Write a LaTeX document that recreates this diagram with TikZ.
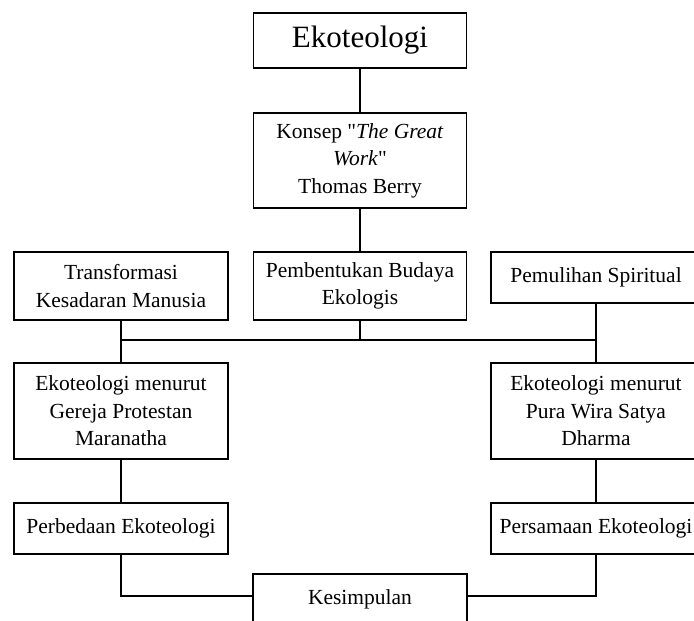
\documentclass[tikz,border=0pt]{standalone}
\usepackage{fontspec}
\setmainfont{Liberation Serif}[Ligatures=TeXOff]
\begin{document}
\begin{tikzpicture}[x=1pt,y=-1pt,
  box/.style={draw, line width=1.5pt, inner sep=0pt, align=center,
    font=\fontsize{21.5}{27.5}\selectfont},
  link/.style={line width=1.5pt}]
\useasboundingbox (0,0) rectangle (694,621);
\clip (0,0) rectangle (694,621);
\node[box, minimum width=213pt, minimum height=55pt, font=\fontsize{31}{36}\selectfont] (eko) at (360,40.5) {Ekoteologi};
\node[box, minimum width=213pt, minimum height=95pt] (konsep) at (360,160.5) {Konsep "\textit{The Great}\\\textit{Work}"\\Thomas Berry};
\node[box, minimum width=214pt, minimum height=68pt] (trans) at (121,286) {Transformasi\\Kesadaran Manusia};
\node[box, minimum width=213pt, minimum height=68pt] (pemb) at (360,286) {Pembentukan Budaya\\Ekologis};
\node[box, minimum width=210pt, minimum height=51pt] (pemu) at (596,277.5) {Pemulihan Spiritual};
\node[box, minimum width=214pt, minimum height=96pt] (gpm) at (121,411) {Ekoteologi menurut\\Gereja Protestan\\Maranatha};
\node[box, minimum width=210pt, minimum height=96pt] (pwsd) at (596,411) {Ekoteologi menurut\\Pura Wira Satya\\Dharma};
\node[box, minimum width=214pt, minimum height=51pt] (perb) at (121,528.5) {Perbedaan Ekoteologi};
\node[box, minimum width=210pt, minimum height=51pt] (pers) at (596,528.5) {Persamaan Ekoteologi};
\node[box, minimum width=214pt, minimum height=51pt] (kes) at (360,599.5) {Kesimpulan};
\coordinate (busL) at (121,340);
\coordinate (busR) at (596,340);
\draw[link] (eko) -- (konsep);
\draw[link] (konsep) -- (pemb);
\draw[link] (pemb.south) -- (pemb.south |- busL);
\draw[link] (busL) -- (busR);
\draw[link] (trans.south) -- (gpm.north);
\draw[link] (pemu.south) -- (pwsd.north);
\draw[link] (gpm) -- (perb);
\draw[link] (pwsd) -- (pers);
\draw[link] (perb.south) |- ([yshift=3.5pt]kes.west);
\draw[link] (pers.south) |- ([yshift=3.5pt]kes.east);
\end{tikzpicture}
\end{document}
